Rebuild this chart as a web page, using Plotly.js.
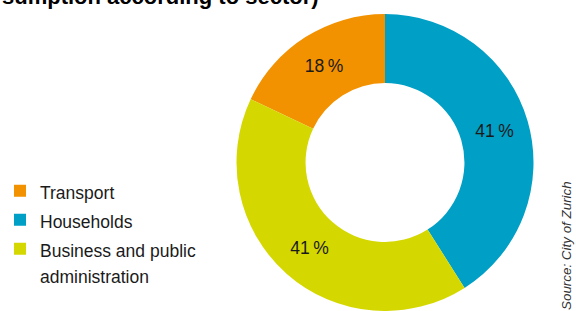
<!DOCTYPE html>
<html>
<head>
<meta charset="utf-8">
<script src="https://cdn.plot.ly/plotly-3.0.1.min.js"></script>
<style>html,body{margin:0;padding:0;background:#fff;}#chart{width:576px;height:311px;}</style>
</head>
<body>
<div id="chart"></div>
<script>
const categories = ["Transport", "Households", "Business and public<br>administration"];
const shares = [18, 41, 41];
const colors = ["#F39200", "#009FC6", "#D4D800"];
const titleText = "sumption according to sector)";
const sourceText = "Source: City of Zurich";

const FONT = "Liberation Sans, Arial, Helvetica, sans-serif";
const legendLabels = categories.map(c => c.split("<br>").map(l => '<span style="font-size:17.5px">' + l + '</span>').join("<br>"));

const trace = {
  type: "pie",
  labels: legendLabels,
  values: shares,
  sort: false,
  direction: "clockwise",
  rotation: -64.8,
  hole: 0.535,
  marker: {colors: colors, line: {width: 0}},
  texttemplate: "%{value}\u2009%",
  textposition: "inside",
  insidetextorientation: "horizontal",
  textfont: {family: FONT, size: 17.5, color: "#1a1a1a"},
  hoverinfo: "none",
  domain: {x: [236/576, 534/576], y: [0, 297/311]}
};

const layout = {
  width: 576, height: 311,
  margin: {l: 0, r: 0, t: 0, b: 0},
  paper_bgcolor: "#ffffff",
  showlegend: true,
  legend: {
    x: 0, y: 0.449, xanchor: "left", yanchor: "top",
    font: {family: FONT, size: 20, color: "#1a1a1a"},
    traceorder: "normal", valign: "top", itemwidth: 30
  },
  annotations: [
    {text: "<b>" + titleText + "</b>", xref: "paper", yref: "paper", x: 0, y: 1, xanchor: "left", yanchor: "bottom", yshift: -11, showarrow: false,
     font: {family: FONT, size: 22, color: "#000"}},
    {text: "<i>" + sourceText + "</i>", xref: "paper", yref: "paper", x: 566/576, y: (311-246)/311, xanchor: "center", yanchor: "middle", textangle: -90, showarrow: false,
     font: {family: FONT, size: 13.4, color: "#333"}}
  ]
};

Plotly.newPlot("chart", [trace], layout, {staticPlot: true, displayModeBar: false});
</script>
</body>
</html>
